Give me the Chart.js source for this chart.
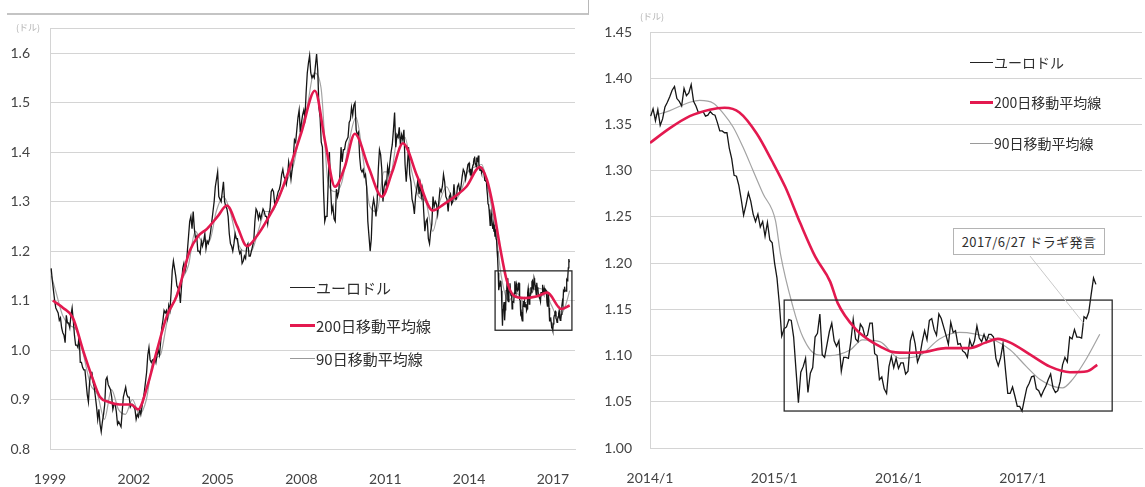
<!DOCTYPE html>
<html lang="ja">
<head>
<meta charset="utf-8">
<title>ユーロドルと移動平均線</title>
<script src="https://cdn.jsdelivr.net/npm/chart.js@4.4.1/dist/chart.umd.min.js"></script>
<style>
  html, body { margin: 0; padding: 0; background: #fff; }
  #wrap { position: relative; width: 1145px; height: 487px; overflow: hidden; }
  canvas { position: absolute; top: 0; }
  #cLong { left: 0; }
  #cZoom { left: 590px; }
  .frame { position: absolute; left: 7px; top: -10px; width: 581px; height: 23px;
           border-right: 1px solid #b8b8b8; border-bottom: 2px solid #c4c4c4; }
  .unit { position: absolute; font: 9px "Noto Sans CJK JP", sans-serif; color: #b4b4b4; }
  .legend { position: absolute; font-family: "Noto Sans CJK JP", sans-serif; color: #2e2e2e; }
  .legend div { position: absolute; left: 0; height: 20px; white-space: nowrap;
                display: flex; align-items: center; }
  .legend i { display: inline-block; margin-right: 1px; }
  .note { position: absolute; left: 953px; top: 228px; width: 150px; height: 25px;
          border: 1px solid #b4b4b4; background: #fff; color: #2e2e2e; text-align: center;
          font: 13px/25px "Noto Sans CJK JP", sans-serif; letter-spacing: 0.4px; }
</style>
</head>
<body>
<div id="wrap">
  <canvas id="cLong" width="590" height="487"></canvas>
  <canvas id="cZoom" width="555" height="487"></canvas>
  <div class="frame"></div>
  <div class="unit" style="left:16px; top:21px;">(ドル)</div>
  <div class="unit" style="left:640px; top:10px;">(ドル)</div>

  <div class="legend" style="left:290px; top:277px; font-size:15px;">
    <div style="top:0;"><i style="width:25px; border-top:1.5px solid #222;"></i>ユーロドル</div>
    <div style="top:38px;"><i style="width:25px; border-top:3px solid #e3194f;"></i>200日移動平均線</div>
    <div style="top:71px;"><i style="width:25px; border-top:1px solid #9a9a9a;"></i>90日移動平均線</div>
  </div>
  <div class="legend" style="left:970px; top:52px; font-size:14px;">
    <div style="top:0;"><i style="width:23px; border-top:1.5px solid #222;"></i>ユーロドル</div>
    <div style="top:40px;"><i style="width:23px; border-top:3px solid #e3194f;"></i>200日移動平均線</div>
    <div style="top:81px;"><i style="width:23px; border-top:1px solid #9a9a9a;"></i>90日移動平均線</div>
  </div>
  <div class="note">2017/6/27 ドラギ発言</div>
</div>

<script>
// ユーロドル 1999〜2013年（月中・月末の2本/月）
const spot1999to2013 = [
  // 1999
  1.165, 1.140, 1.120, 1.100, 1.085, 1.080, 1.075, 1.060, 1.065, 1.045, 1.035, 1.030, 1.015, 1.070, 1.055, 1.055, 1.045, 1.070, 1.085, 1.060, 1.030, 1.010, 1.010, 1.005,
  // 2000
  1.030, 0.975, 0.975, 0.965, 0.960, 0.960, 0.935, 0.910, 0.895, 0.935, 0.955, 0.955, 0.935, 0.925, 0.905, 0.885, 0.860, 0.880, 0.850, 0.835, 0.855, 0.870, 0.890, 0.940,
  // 2001
  0.945, 0.930, 0.925, 0.920, 0.905, 0.880, 0.890, 0.890, 0.875, 0.850, 0.855, 0.850, 0.845, 0.875, 0.905, 0.915, 0.925, 0.910, 0.905, 0.905, 0.885, 0.890, 0.890, 0.885,
  // 2002
  0.880, 0.860, 0.870, 0.865, 0.880, 0.870, 0.885, 0.900, 0.915, 0.935, 0.955, 0.990, 1.005, 0.980, 0.975, 0.980, 0.980, 0.985, 0.975, 0.990, 1.000, 0.990, 1.015, 1.045,
  // 2003
  1.060, 1.080, 1.075, 1.080, 1.065, 1.090, 1.080, 1.115, 1.160, 1.180, 1.165, 1.150, 1.130, 1.125, 1.120, 1.095, 1.130, 1.165, 1.175, 1.160, 1.170, 1.200, 1.230, 1.260,
  // 2004
  1.270, 1.245, 1.280, 1.245, 1.225, 1.230, 1.200, 1.200, 1.195, 1.220, 1.210, 1.220, 1.235, 1.205, 1.220, 1.215, 1.225, 1.240, 1.260, 1.280, 1.300, 1.330, 1.345, 1.360,
  // 2005
  1.310, 1.305, 1.300, 1.320, 1.340, 1.300, 1.290, 1.285, 1.270, 1.235, 1.215, 1.210, 1.200, 1.215, 1.235, 1.225, 1.225, 1.205, 1.195, 1.200, 1.175, 1.180, 1.190, 1.185,
  // 2006
  1.210, 1.215, 1.190, 1.190, 1.200, 1.210, 1.220, 1.260, 1.285, 1.280, 1.265, 1.275, 1.265, 1.275, 1.285, 1.280, 1.270, 1.270, 1.255, 1.275, 1.285, 1.320, 1.325, 1.320,
  // 2007
  1.295, 1.300, 1.310, 1.320, 1.325, 1.335, 1.355, 1.365, 1.350, 1.345, 1.335, 1.350, 1.380, 1.365, 1.345, 1.365, 1.390, 1.425, 1.420, 1.445, 1.470, 1.485, 1.440, 1.460,
  // 2008
  1.475, 1.485, 1.470, 1.520, 1.560, 1.580, 1.595, 1.560, 1.550, 1.555, 1.550, 1.575, 1.598, 1.565, 1.490, 1.470, 1.420, 1.410, 1.320, 1.260, 1.270, 1.270, 1.340, 1.400,
  // 2009
  1.330, 1.280, 1.290, 1.265, 1.260, 1.325, 1.310, 1.320, 1.355, 1.410, 1.380, 1.405, 1.405, 1.420, 1.425, 1.430, 1.460, 1.465, 1.490, 1.475, 1.495, 1.500, 1.445, 1.435,
  // 2010
  1.440, 1.390, 1.365, 1.360, 1.365, 1.350, 1.355, 1.330, 1.260, 1.230, 1.200, 1.225, 1.290, 1.305, 1.290, 1.270, 1.300, 1.365, 1.405, 1.395, 1.365, 1.300, 1.330, 1.340,
  // 2011
  1.330, 1.370, 1.355, 1.380, 1.400, 1.415, 1.445, 1.480, 1.410, 1.435, 1.430, 1.450, 1.415, 1.435, 1.425, 1.445, 1.375, 1.340, 1.375, 1.410, 1.355, 1.340, 1.305, 1.295,
  // 2012
  1.275, 1.310, 1.325, 1.345, 1.315, 1.335, 1.310, 1.325, 1.280, 1.240, 1.260, 1.265, 1.225, 1.215, 1.240, 1.255, 1.310, 1.290, 1.300, 1.295, 1.275, 1.300, 1.325, 1.320,
  // 2013
  1.330, 1.355, 1.340, 1.310, 1.305, 1.280, 1.310, 1.315, 1.295, 1.300, 1.335, 1.305, 1.305, 1.330, 1.335, 1.320, 1.330, 1.350, 1.365, 1.360, 1.345, 1.360, 1.375, 1.378
];

// ユーロドル 2014年1月3日〜2017年8月4日（週末値）
const spotWeekly = [
  // 2014
  1.359, 1.367, 1.354, 1.366, 1.349, 1.356, 1.369, 1.374, 1.380, 1.387, 1.391, 1.378, 1.375,
  1.370, 1.389, 1.381, 1.384, 1.393, 1.375, 1.370, 1.363, 1.363, 1.364, 1.359, 1.360, 1.364,
  1.361, 1.360, 1.352, 1.343, 1.343, 1.341, 1.341, 1.324, 1.313, 1.295, 1.294, 1.284, 1.269,
  1.252, 1.263, 1.276, 1.267, 1.253, 1.245, 1.253, 1.239, 1.245, 1.229, 1.244, 1.225, 1.222,
  // 2015
  1.200, 1.184, 1.156, 1.121, 1.129, 1.131, 1.139, 1.138, 1.120, 1.084, 1.049, 1.082, 1.088,
  1.097, 1.060, 1.081, 1.087, 1.120, 1.124, 1.145, 1.101, 1.098, 1.112, 1.126, 1.135, 1.116,
  1.110, 1.116, 1.083, 1.098, 1.098, 1.097, 1.115, 1.139, 1.118, 1.115, 1.134, 1.130, 1.120,
  1.122, 1.135, 1.135, 1.102, 1.100, 1.074, 1.077, 1.064, 1.059, 1.088, 1.099, 1.087, 1.097,
  // 2016
  1.086, 1.092, 1.092, 1.080, 1.083, 1.116, 1.125, 1.113, 1.093, 1.100, 1.115, 1.127, 1.117,
  1.138, 1.140, 1.128, 1.122, 1.145, 1.140, 1.131, 1.122, 1.112, 1.136, 1.125, 1.127, 1.112,
  1.113, 1.105, 1.103, 1.098, 1.117, 1.109, 1.116, 1.132, 1.119, 1.115, 1.123, 1.115, 1.123,
  1.123, 1.120, 1.097, 1.089, 1.098, 1.113, 1.085, 1.059, 1.059, 1.066, 1.056, 1.045, 1.045, 1.040,
  // 2017
  1.053, 1.065, 1.070, 1.077, 1.078, 1.064, 1.062, 1.056, 1.062, 1.067, 1.074, 1.080, 1.065,
  1.060, 1.062, 1.072, 1.090, 1.098, 1.093, 1.120, 1.118, 1.128, 1.120, 1.120, 1.119, 1.142,
  1.140, 1.147, 1.166, 1.184, 1.177
];

// 移動平均線（長期チャート）
const ma200LongYears = [1999.1, 1999.47, 1999.82, 2000.18, 2000.54, 2000.79, 2001.1, 2001.5, 2001.9, 2002.15,
  2002.5, 2002.83, 2003.19, 2003.54, 2004.0, 2004.3, 2004.62, 2005.0, 2005.33, 2005.7, 2006.05, 2006.4,
  2006.76, 2007.2, 2007.59, 2008.0, 2008.48, 2008.85, 2009.2, 2009.55, 2009.91, 2010.4, 2010.88, 2011.25,
  2011.63, 2012.15, 2012.7, 2013.1, 2013.49, 2013.9, 2014.39, 2014.64, 2014.86, 2015.1, 2015.35, 2015.6,
  2016.0, 2016.4, 2016.8, 2017.3, 2017.6];
const ma200LongValues = [1.100, 1.085, 1.065, 1.000, 0.940, 0.905, 0.895, 0.890, 0.890, 0.880,
  0.930, 1.000, 1.070, 1.110, 1.200, 1.230, 1.245, 1.270, 1.292, 1.250, 1.210, 1.230,
  1.262, 1.310, 1.370, 1.440, 1.524, 1.420, 1.330, 1.370, 1.437, 1.370, 1.310, 1.360,
  1.418, 1.350, 1.282, 1.295, 1.310, 1.330, 1.370, 1.344, 1.290, 1.210, 1.140, 1.110,
  1.105, 1.108, 1.116, 1.083, 1.090];

const ma90LongYears = [1999.05, 1999.2, 1999.45, 1999.7, 1999.95, 2000.2, 2000.45, 2000.7, 2000.95,
  2001.2, 2001.45, 2001.7, 2001.95, 2002.2, 2002.45, 2002.7, 2002.95, 2003.2, 2003.45, 2003.7, 2003.95,
  2004.2, 2004.45, 2004.7, 2004.95, 2005.2, 2005.45, 2005.7, 2005.95, 2006.2, 2006.45, 2006.7, 2006.95,
  2007.2, 2007.45, 2007.7, 2007.95, 2008.2, 2008.45, 2008.7, 2008.95, 2009.2, 2009.45, 2009.7, 2009.95,
  2010.2, 2010.45, 2010.7, 2010.95, 2011.2, 2011.45, 2011.7, 2011.95, 2012.2, 2012.45, 2012.7, 2012.95,
  2013.2, 2013.45, 2013.7, 2013.95, 2014.2, 2014.45, 2014.7, 2014.95, 2015.15, 2015.4, 2015.7, 2016.0,
  2016.4, 2016.7, 2016.95, 2017.2, 2017.45, 2017.6];
const ma90LongValues = [1.150, 1.120, 1.070, 1.050, 1.040, 0.990, 0.930, 0.910, 0.860,
  0.920, 0.880, 0.870, 0.900, 0.870, 0.900, 0.980, 0.990, 1.060, 1.100, 1.140, 1.170,
  1.240, 1.220, 1.220, 1.280, 1.310, 1.280, 1.220, 1.200, 1.200, 1.240, 1.280, 1.280,
  1.310, 1.340, 1.370, 1.440, 1.490, 1.560, 1.530, 1.340, 1.320, 1.340, 1.420, 1.470,
  1.390, 1.290, 1.280, 1.360, 1.360, 1.430, 1.430, 1.360, 1.310, 1.300, 1.240, 1.300,
  1.330, 1.300, 1.320, 1.360, 1.370, 1.375, 1.320, 1.240, 1.150, 1.100, 1.115, 1.095,
  1.125, 1.120, 1.090, 1.065, 1.090, 1.120];

// 移動平均線（2014年以降の拡大チャート）
const ma200ZoomYears = [2014.0, 2014.16, 2014.32, 2014.48, 2014.6, 2014.72, 2014.86, 2014.98, 2015.09,
  2015.21, 2015.33, 2015.45, 2015.51, 2015.66, 2015.76, 2015.85, 2015.95, 2016.09, 2016.22, 2016.38,
  2016.57, 2016.7, 2016.8, 2016.9, 2017.06, 2017.22, 2017.38, 2017.52, 2017.6];
const ma200ZoomValues = [1.330, 1.346, 1.359, 1.366, 1.368, 1.363, 1.340, 1.311, 1.282,
  1.243, 1.207, 1.180, 1.157, 1.128, 1.117, 1.110, 1.104, 1.103, 1.104, 1.108,
  1.108, 1.114, 1.118, 1.114, 1.101, 1.088, 1.082, 1.083, 1.090];

const ma90ZoomYears = [2014.04, 2014.16, 2014.32, 2014.4, 2014.51, 2014.59, 2014.67, 2014.75, 2014.83,
  2014.91, 2015.01, 2015.05, 2015.15, 2015.23, 2015.34, 2015.45, 2015.61, 2015.71, 2015.85, 2016.01,
  2016.17, 2016.33, 2016.49, 2016.73, 2016.9, 2017.03, 2017.14, 2017.24, 2017.32, 2017.4, 2017.51, 2017.62];
const ma90ZoomValues = [1.360, 1.365, 1.374, 1.376, 1.373, 1.362, 1.347, 1.325, 1.300,
  1.275, 1.246, 1.210, 1.153, 1.120, 1.101, 1.100, 1.106, 1.117, 1.115, 1.097,
  1.100, 1.118, 1.125, 1.119, 1.106, 1.088, 1.074, 1.067, 1.065, 1.074, 1.096, 1.123];

// 目盛り
const longYearTicks = [1999, 2002, 2005, 2008, 2011, 2014, 2017];
const longRateTicks = [0.8, 0.9, 1.0, 1.1, 1.2, 1.3, 1.4, 1.5, 1.6];
const zoomYearTicks = [2014, 2015, 2016, 2017];
const zoomTickLabels = ['2014/1', '2015/1', '2016/1', '2017/1'];
const zoomRateTicks = [1.00, 1.05, 1.10, 1.15, 1.20, 1.25, 1.30, 1.35, 1.40, 1.45];

// 2015年以降のレンジを囲む枠（期間・水準）とドラギ発言の日付
const focusYearsLong = [2014.93, 2017.68];
const focusYearsZoom = [2015.08, 2017.72];
const focusRates = [1.04, 1.16];
const draghiYear = 2017.49;
const draghiRate = 1.135;

// 日付 → 小数表記の年
function toYear(t) {
  const d = new Date(t);
  const y = d.getUTCFullYear();
  const start = Date.UTC(y, 0, 1), end = Date.UTC(y + 1, 0, 1);
  return y + (t - start) / (end - start);
}

const weekDates = spotWeekly.map((_, i) => toYear(Date.UTC(2014, 0, 3) + i * 7 * 864e5));
const weeklyPoints = spotWeekly.map((v, i) => ({ x: weekDates[i], y: v }));
const halfMonthPoints = spot1999to2013.map((v, i) => ({ x: 1999 + (i + 1) / 24, y: v }));
const pairs = (xs, ys) => xs.map((x, i) => ({ x: x, y: ys[i] }));

const RED = '#e3194f';
const GRAY = '#a3a3a3';
const GRID = '#d4d4d4';
const TICK_FONT = { family: 'Lato, "Liberation Sans", sans-serif', size: 14 };

// 枠線・引き出し線
const focusBox = {
  id: 'focusBox',
  afterDatasetsDraw(chart, args, opts) {
    const { ctx, scales: { x, y } } = chart;
    const x0 = x.getPixelForValue(opts.years[0]);
    const x1 = x.getPixelForValue(opts.years[1]);
    const y0 = y.getPixelForValue(focusRates[1]);
    const y1 = y.getPixelForValue(focusRates[0]);
    ctx.save();
    ctx.strokeStyle = '#2a2a2a';
    ctx.lineWidth = 1.3;
    ctx.strokeRect(x0, y0, x1 - x0, y1 - y0);
    if (opts.leaderFrom) {
      ctx.strokeStyle = '#c9c9c9';
      ctx.lineWidth = 1;
      ctx.beginPath();
      ctx.moveTo(opts.leaderFrom[0], opts.leaderFrom[1]);
      ctx.lineTo(x.getPixelForValue(draghiYear), y.getPixelForValue(draghiRate));
      ctx.stroke();
    }
    ctx.restore();
  }
};

function makeDatasets(ma200, ma90, spot, redWidth) {
  return [
    { data: ma200, borderColor: RED, borderWidth: redWidth, pointRadius: 0, cubicInterpolationMode: 'monotone' },
    { data: spot, borderColor: '#161616', borderWidth: 1.3, pointRadius: 0, tension: 0 },
    { data: ma90, borderColor: GRAY, borderWidth: 1.2, pointRadius: 0, cubicInterpolationMode: 'monotone' }
  ];
}

function makeOptions(o) {
  return {
    responsive: false,
    animation: false,
    events: [],
    layout: { padding: o.padding },
    plugins: { legend: { display: false }, tooltip: { enabled: false }, focusBox: o.box },
    scales: {
      x: {
        type: 'linear', min: o.xMin, max: o.xMax,
        afterBuildTicks: s => { s.ticks = o.xTicks.map(v => ({ value: v })); },
        afterFit: s => { s.height = o.xHeight; },
        grid: { display: false },
        border: { color: GRID },
        ticks: { autoSkip: false, maxRotation: 0, padding: 14, color: '#444', font: TICK_FONT,
                 callback: o.xLabel }
      },
      y: {
        min: o.yMin, max: o.yMax,
        afterBuildTicks: s => { s.ticks = o.yTicks.map(v => ({ value: v })); },
        afterFit: s => { s.width = o.yWidth; },
        grid: { color: GRID, drawTicks: false },
        border: { color: GRID },
        ticks: { padding: o.yPad, color: '#444', font: TICK_FONT, callback: o.yLabel }
      }
    }
  };
}

// 1999年以降の長期チャート
new Chart(document.getElementById('cLong'), {
  type: 'line',
  data: {
    datasets: makeDatasets(
      pairs(ma200LongYears, ma200LongValues),
      pairs(ma90LongYears, ma90LongValues),
      halfMonthPoints.concat(weeklyPoints),
      2.6)
  },
  options: makeOptions({
    padding: { left: 0, right: 15, top: 27, bottom: 0 },
    xMin: 1999, xMax: 2017.79, xTicks: longYearTicks, xHeight: 38,
    xLabel: v => String(v),
    yMin: 0.8, yMax: 1.65, yTicks: longRateTicks.concat([1.65]), yWidth: 50, yPad: 20,
    yLabel: v => (v > 1.6 ? '' : v.toFixed(1)),
    box: { years: focusYearsLong }
  }),
  plugins: [focusBox]
});

// 2014年以降の拡大チャート
new Chart(document.getElementById('cZoom'), {
  type: 'line',
  data: {
    datasets: makeDatasets(
      pairs(ma200ZoomYears, ma200ZoomValues),
      pairs(ma90ZoomYears, ma90ZoomValues),
      weeklyPoints,
      2.6)
  },
  options: makeOptions({
    padding: { left: 0, right: 3, top: 32, bottom: 0 },
    xMin: 2014, xMax: 2017.96, xTicks: zoomYearTicks, xHeight: 39,
    xLabel: (v, i) => zoomTickLabels[i],
    yMin: 1.0, yMax: 1.45, yTicks: zoomRateTicks, yWidth: 60, yPad: 18,
    yLabel: v => v.toFixed(2),
    box: { years: focusYearsZoom, leaderFrom: [440, 256] }
  }),
  plugins: [focusBox]
});
</script>
</body>
</html>
